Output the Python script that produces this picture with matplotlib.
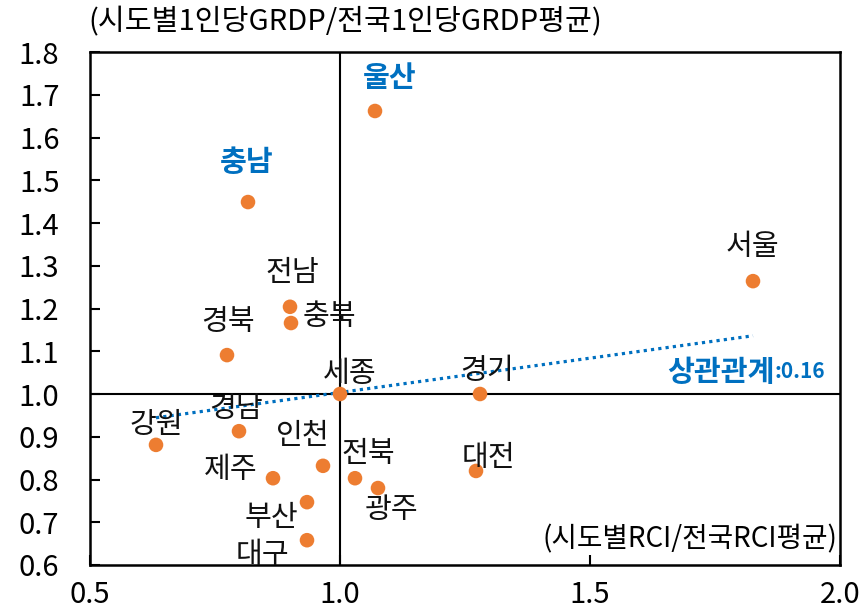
import numpy as np
import matplotlib.pyplot as plt

plt.rcParams['font.family'] = ['Noto Sans CJK KR', 'DejaVu Sans']

# 시도별 RCI / 1인당 GRDP (전국 평균 대비)
regions = ['울산', '충남', '서울', '전남', '충북', '경북', '세종', '경기', '강원',
           '경남', '인천', '제주', '전북', '광주', '대전', '부산', '대구']
rci = [1.07, 0.816, 1.826, 0.90, 0.902, 0.774, 1.0, 1.28, 0.632,
       0.798, 0.966, 0.866, 1.03, 1.076, 1.272, 0.934, 0.934]
grdp = [1.662, 1.449, 1.264, 1.204, 1.166, 1.091, 1.0, 1.0, 0.881,
        0.913, 0.832, 0.803, 0.803, 0.780, 0.820, 0.747, 0.658]
highlight = ['울산', '충남']
corr_text = ':0.16'

xticks = [0.5, 1.0, 1.5, 2.0]
yticks = [0.6, 0.7, 0.8, 0.9, 1.0, 1.1, 1.2, 1.3, 1.4, 1.5, 1.6, 1.7, 1.8]

# label offsets in pixels (dx, dy up)
offsets = [(15, 33), (-1, 40), (-1, 34), (2, 34), (38, 6), (1, 33), (10, 20), (7, 23), (0, 20),
           (-3, 22), (-20, 30), (-42, 8), (13, 24), (14, -22), (13, 13), (-36, -16), (-44, -15)]

orange = '#ED7D31'
blue = '#0070C0'

fig = plt.figure(figsize=(8.6, 6.11), dpi=100)
ax = fig.add_axes([90/860, 1-565/611, 750/860, 513/611])

ax.axvline(1.0, color='black', lw=1.5, zorder=1)
ax.axhline(1.0, color='black', lw=1.5, zorder=1)

x = np.array(rci)
y = np.array(grdp)
slope, inter = np.polyfit(x, y, 1)
xs = np.array([x.min(), x.max()])
ax.plot(xs, slope*xs+inter, color=blue, lw=2.3, linestyle=(0, (1, 1.3)), zorder=2)

ax.scatter(x, y, s=110, color=orange, edgecolors='none', zorder=3)

for name, xi, yi, off in zip(regions, rci, grdp, offsets):
    if name in highlight:
        ax.annotate(name, (xi, yi), xytext=off, textcoords='offset pixels',
                    ha='center', va='center', fontsize=21, color=blue, fontweight='bold')
    else:
        ax.annotate(name, (xi, yi), xytext=off, textcoords='offset pixels',
                    ha='center', va='center', fontsize=21, color='#111111', annotation_clip=False)

t = ax.text(1.97, 1.052, corr_text, ha='right', va='center', fontsize=15,
            color=blue, fontweight='bold')
ax.annotate('상관관계', xy=(0, 0.5), xycoords=t, ha='right', va='center',
            fontsize=21, color=blue, fontweight='bold')

ax.text(1.995, 0.66, '(시도별RCI/전국RCI평균)', ha='right', va='center', fontsize=20)
fig.text(88/860, 1-22/611, '(시도별1인당GRDP/전국1인당GRDP평균)', ha='left', va='center', fontsize=21)

ax.set_xlim(0.5, 2.0)
ax.set_ylim(0.6, 1.8)
ax.set_xticks(xticks)
ax.set_xticklabels(['%.1f' % v for v in xticks])
ax.set_yticks(yticks)
ax.set_yticklabels(['%.1f' % v for v in yticks])
ax.tick_params(direction='in', length=7, width=1.5, labelsize=21)
ax.tick_params(axis='y', pad=22)
ax.tick_params(axis='x', pad=11)
for s in ax.spines.values():
    s.set_linewidth(1.8)

fig.savefig('out.png', dpi=100)
